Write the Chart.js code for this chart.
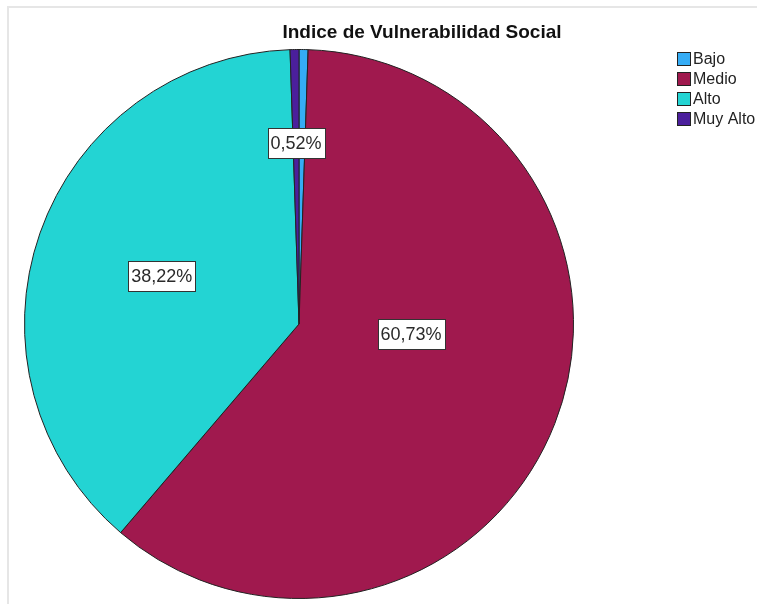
<!DOCTYPE html>
<html>
<head>
<meta charset="utf-8">
<script src="https://cdn.jsdelivr.net/npm/chart.js@4.4.1/dist/chart.umd.min.js"></script>
<style>
  html, body { margin: 0; padding: 0; background: #fff; }
  #wrap { position: relative; width: 757px; height: 604px; }
  #frame { position: absolute; left: 7px; top: 6px; right: -2px; bottom: -2px;
           border-top: 2px solid #e6e6e6; border-left: 2px solid #e6e6e6; }
  canvas { position: absolute; left: 0; top: 0; }
</style>
</head>
<body>
<div id="wrap">
  <div id="frame"></div>
  <canvas id="vsChart" width="757" height="604"></canvas>
</div>
<script>
  // data
  const categories = ["Bajo", "Medio", "Alto", "Muy Alto"];
  const percents = [0.53, 60.73, 38.22, 0.52];
  const shownLabels = [null, "60,73%", "38,22%", "0,52%"];
  const colors = ["#35acf5", "#a0194e", "#23d4d3", "#4b1f9c"];
  const chartTitle = "Indice de Vulnerabilidad Social";

  // where each label sits: fraction of radius, angle shift (deg)
  const labelSpots = [null, { r: 0.41, da: -16 }, { r: 0.53, da: 0 }, { r: 0.66, da: 0 }];

  const FONT = "'Liberation Sans', Arial, sans-serif";

  const boxLabels = {
    id: "boxLabels",
    afterDatasetsDraw(chart) {
      const ctx = chart.ctx;
      const arcs = chart.getDatasetMeta(0).data;
      ctx.save();
      ctx.font = "18px " + FONT;
      ctx.textAlign = "center";
      ctx.textBaseline = "middle";
      arcs.forEach((arc, i) => {
        const txt = shownLabels[i];
        if (!txt) return;
        const p = arc.getProps(["x", "y", "startAngle", "endAngle", "outerRadius"], true);
        const spot = labelSpots[i];
        const a = (p.startAngle + p.endAngle) / 2 + spot.da * Math.PI / 180;
        const x = p.x + Math.cos(a) * p.outerRadius * spot.r;
        const y = p.y + Math.sin(a) * p.outerRadius * spot.r;
        const w = Math.round(ctx.measureText(txt).width + 6);
        const h = 30;
        const bx = Math.round(x - w / 2) + 0.5, by = Math.round(y - h / 2) + 0.5;
        ctx.fillStyle = "#fff";
        ctx.fillRect(bx, by, w, h);
        ctx.strokeStyle = "#333";
        ctx.lineWidth = 1;
        ctx.strokeRect(bx, by, w, h);
        ctx.fillStyle = "#2a2a2a";
        ctx.fillText(txt, x, y + 1);
      });
      ctx.restore();
    }
  };

  // title + legend drawn by hand, like the original
  const decor = {
    id: "decor",
    afterDraw(chart) {
      const ctx = chart.ctx;
      ctx.save();
      ctx.fillStyle = "#111";
      ctx.font = "bold 19px " + FONT;
      ctx.textAlign = "center";
      ctx.textBaseline = "middle";
      ctx.fillText(chartTitle, 422, 33);

      ctx.font = "16px " + FONT;
      ctx.textAlign = "left";
      categories.forEach((c, i) => {
        const y = 59 + i * 20;
        ctx.fillStyle = colors[i];
        ctx.fillRect(677.5, y - 6.5, 13, 13);
        ctx.strokeStyle = "#222";
        ctx.lineWidth = 1;
        ctx.strokeRect(677.5, y - 6.5, 13, 13);
        ctx.fillStyle = "#222";
        ctx.fillText(c, 693, y + 1);
      });
      ctx.restore();
    }
  };

  new Chart(document.getElementById("vsChart"), {
    type: "pie",
    data: {
      labels: categories,
      datasets: [{
        data: percents,
        backgroundColor: colors,
        borderColor: "#222",
        borderWidth: 1
      }]
    },
    options: {
      responsive: false,
      animation: false,
      layout: { padding: { left: 24, right: 183, top: 49, bottom: 5 } },
      plugins: {
        legend: { display: false },
        title: { display: false },
        tooltip: { enabled: false }
      }
    },
    plugins: [boxLabels, decor]
  });
</script>
</body>
</html>
